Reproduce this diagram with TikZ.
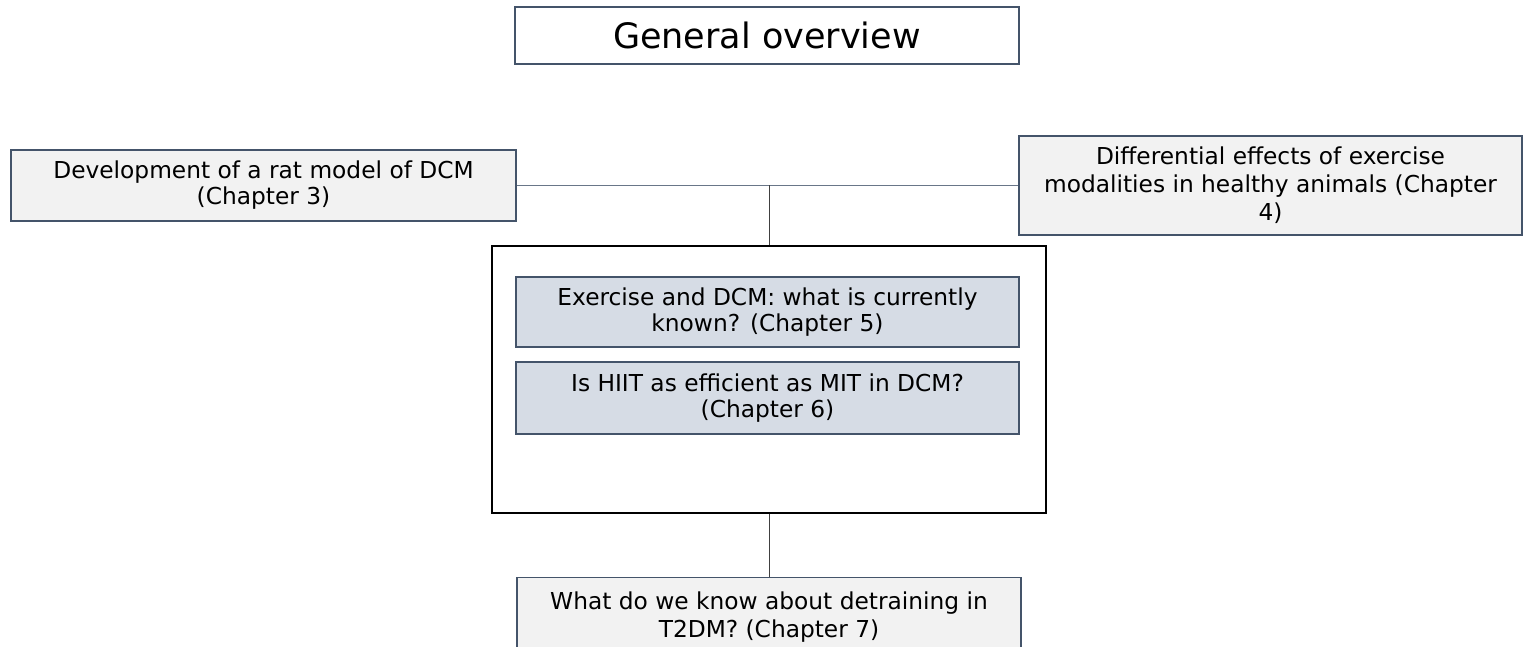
\documentclass[tikz,border=0pt]{standalone}
\usepackage{fontspec}
\setmainfont{DejaVu Sans}
\definecolor{edge}{HTML}{44546A}
\definecolor{grayfill}{HTML}{F2F2F2}
\definecolor{bluefill}{HTML}{D6DCE5}
\tikzset{
  base/.style={rectangle, draw=edge, line width=1.3pt, inner sep=0pt, align=center,
    font=\fontsize{23.3}{26}\selectfont, text=black},
  graybox/.style={base, fill=grayfill},
  bluebox/.style={base, fill=bluefill},
  conn/.style={line width=1pt, draw=black!75},
}
\begin{document}
\begin{tikzpicture}[x=1pt,y=-1pt]
\useasboundingbox (0,0) rectangle (1523,647);
\clip (0,0) rectangle (1523,647);
\node[base, fill=white, minimum width=504pt, minimum height=57pt,
  font=\fontsize{35}{40}\selectfont] (title) at (767,35.5) {General overview};
\node[graybox, minimum width=505pt, minimum height=71pt] (left) at (263.5,185.5)
  {Development of a rat model of DCM\\(Chapter 3)};
\node[graybox, minimum width=503pt, minimum height=99pt, font=\fontsize{23.3}{28}\selectfont] (right) at (1270.5,185.5)
  {Differential effects of exercise\\modalities in healthy animals (Chapter\\4)};
\node[rectangle, draw=black, line width=1.6pt, fill=white, minimum width=554pt, minimum height=267pt] (big) at (769,379.5) {};
\node[bluebox, minimum width=503pt, minimum height=70pt] (b5) at (767.5,312)
  {Exercise and DCM: what is currently\\known? (Chapter 5)};
\node[bluebox, minimum width=503pt, minimum height=72pt] (b6) at (767.5,398)
  {Is HIIT as efficient as MIT in DCM?\\(Chapter 6)};
\node[graybox, minimum width=504pt, minimum height=78pt, anchor=north, font=\fontsize{23.3}{28}\selectfont] (b7) at (769,577)
  {What do we know about detraining in\\T2DM? (Chapter 7)};
\draw[conn, draw=edge!80] (left.east) -- (right.west);
\draw[conn] (big.north) -- (big.north |- left.east);
\draw[conn] (big.south) -- (b7.north);
\end{tikzpicture}
\end{document}
